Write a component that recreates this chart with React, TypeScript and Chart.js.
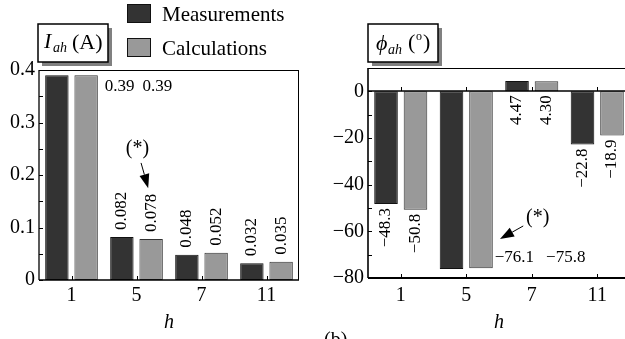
import React, { useEffect, useRef } from 'react';
import { Chart, registerables } from 'chart.js';

Chart.register(...registerables);

const SERIF = '"Liberation Serif", "DejaVu Serif", serif';

// ---- data ----
const harmonics = ['1', '5', '7', '11'];
const seriesNames = ['Measurements', 'Calculations'];

const currentMeasured = [0.39, 0.082, 0.048, 0.032];
const currentCalculated = [0.39, 0.078, 0.052, 0.035];
const currentMeasuredLabels = ['0.39', '0.082', '0.048', '0.032'];
const currentCalculatedLabels = ['0.39', '0.078', '0.052', '0.035'];
const currentTicks = [0, 0.1, 0.2, 0.3, 0.4];

const angleMeasured = [-48.3, -76.1, 4.47, -22.8];
const angleCalculated = [-50.8, -75.8, 4.3, -18.9];
const angleMeasuredLabels = ['\u221248.3', '\u221276.1', '4.47', '\u221222.8'];
const angleCalculatedLabels = ['\u221250.8', '\u221275.8', '4.30', '\u221218.9'];
const angleTicks = [-80, -60, -40, -20, 0];

const DARK = '#333333';
const GRAY = '#999999';

type Note = { text: string; at: [number, number]; from: [number, number]; to: [number, number] };
type Part = { text: string; size: number; italic?: boolean; x: number; y: number };

interface DecorOpts {
  name: string;
  frame: 'box' | 'phase';
  yTicks: number[];
  labels: string[][];
  labelMode: 'above' | 'below';
  horizIndex: number;
  horizOffset: number;
  horizGap: number;
  note: Note;
  titleBox: { x: number; y: number; w: number; h: number; parts: Part[] };
  legend: boolean;
}

function minorOf(ticks: number[]) {
  const out: number[] = [];
  for (let i = 0; i < ticks.length - 1; i++) out.push((ticks[i] + ticks[i + 1]) / 2);
  return out;
}

function catPx(chart: any, c: number) {
  const xs = chart.scales.x;
  const p0 = xs.getPixelForValue(0);
  const p1 = xs.getPixelForValue(1);
  return p0 + c * (p1 - p0);
}

function line(ctx: CanvasRenderingContext2D, x1: number, y1: number, x2: number, y2: number) {
  ctx.beginPath();
  ctx.moveTo(x1, y1);
  ctx.lineTo(x2, y2);
  ctx.stroke();
}

function decorPlugin(o: DecorOpts) {
  return {
    id: 'decor_' + o.name,
    afterDatasetsDraw(chart: any) {
      const ctx: CanvasRenderingContext2D = chart.ctx;
      const { left, right, top, bottom } = chart.chartArea;
      const xs = chart.scales.x;
      const ys = chart.scales.y;
      ctx.save();
      ctx.strokeStyle = '#000';
      const zeroY = Math.round(ys.getPixelForValue(0));

      if (o.frame === 'box') {
        ctx.lineWidth = 1;
        line(ctx, left, top + 0.5, right, top + 0.5);
        line(ctx, right - 0.5, top, right - 0.5, bottom);
        ctx.lineWidth = 1.3;
        line(ctx, left, top, left, bottom);
        ctx.lineWidth = 1.6;
        line(ctx, left, bottom, right, bottom);
      } else {
        ctx.lineWidth = 1.2;
        line(ctx, left, top + 0.5, right, top + 0.5);
        ctx.lineWidth = 1.6;
        line(ctx, left, top, left, bottom);
        ctx.lineWidth = 1.5;
        line(ctx, left, zeroY, right, zeroY);
        ctx.lineWidth = 2.2;
        line(ctx, left, bottom, right, bottom);
      }

      // inward tick marks
      ctx.lineWidth = 1;
      const allY = o.yTicks.concat(minorOf(o.yTicks));
      for (const v of allY) {
        const y = Math.round(ys.getPixelForValue(v)) + 0.5;
        line(ctx, left, y, left + 4, y);
      }
      for (let i = 0; i < harmonics.length; i++) {
        const x = Math.round(xs.getPixelForValue(i)) + 0.5;
        line(ctx, x, bottom, x, bottom - 4);
        if (o.frame === 'phase') line(ctx, x, zeroY, x, zeroY - 4);
      }

      // value labels
      ctx.fillStyle = '#000';
      ctx.font = `17px ${SERIF}`;
      for (let d = 0; d < 2; d++) {
        const meta = chart.getDatasetMeta(d);
        meta.data.forEach((el: any, i: number) => {
          if (i === o.horizIndex) return;
          const yTop = Math.min(el.y, el.base);
          const yBot = Math.max(el.y, el.base);
          ctx.save();
          ctx.textBaseline = 'middle';
          if (o.labelMode === 'above') {
            ctx.translate(el.x, yTop - 7);
            ctx.rotate(-Math.PI / 2);
            ctx.textAlign = 'left';
          } else {
            ctx.translate(el.x, yBot + 4);
            ctx.rotate(-Math.PI / 2);
            ctx.textAlign = 'right';
          }
          ctx.fillText(o.labels[d][i], 0, 0);
          ctx.restore();
        });
      }
      // horizontal pair
      {
        const m1 = chart.getDatasetMeta(1).data[o.horizIndex];
        const sign = m1.base > m1.y ? 1 : -1;
        const yc = m1.y + sign * 11;
        const x0 = m1.x + m1.width / 2 + o.horizOffset;
        ctx.textAlign = 'left';
        ctx.textBaseline = 'middle';
        const t0 = o.labels[0][o.horizIndex];
        const t1 = o.labels[1][o.horizIndex];
        ctx.fillText(t0, x0, yc);
        ctx.fillText(t1, x0 + ctx.measureText(t0).width + o.horizGap, yc);
      }

      // annotation with arrow
      {
        const n = o.note;
        const tx = catPx(chart, n.at[0]);
        const ty = ys.getPixelForValue(n.at[1]);
        ctx.font = `20px ${SERIF}`;
        ctx.textAlign = 'center';
        ctx.textBaseline = 'middle';
        ctx.fillText(n.text, tx, ty);
        const fx = catPx(chart, n.from[0]);
        const fy = ys.getPixelForValue(n.from[1]);
        const ex = catPx(chart, n.to[0]);
        const ey = ys.getPixelForValue(n.to[1]);
        const ang = Math.atan2(ey - fy, ex - fx);
        const hl = 14;
        const hw = 5;
        const bx = ex - hl * Math.cos(ang);
        const by = ey - hl * Math.sin(ang);
        ctx.lineWidth = 1;
        line(ctx, fx, fy, bx, by);
        ctx.beginPath();
        ctx.moveTo(ex, ey);
        ctx.lineTo(bx + hw * Math.sin(ang), by - hw * Math.cos(ang));
        ctx.lineTo(bx - hw * Math.sin(ang), by + hw * Math.cos(ang));
        ctx.closePath();
        ctx.fill();
      }
      ctx.restore();
    },
    afterDraw(chart: any) {
      const ctx: CanvasRenderingContext2D = chart.ctx;
      ctx.save();
      const b = o.titleBox;
      ctx.fillStyle = '#808080';
      ctx.fillRect(b.x + 4, b.y + 4, b.w, b.h);
      ctx.fillStyle = '#fff';
      ctx.fillRect(b.x, b.y, b.w, b.h);
      ctx.strokeStyle = '#000';
      ctx.lineWidth = 1.5;
      ctx.strokeRect(b.x, b.y, b.w, b.h);
      ctx.fillStyle = '#000';
      ctx.textAlign = 'left';
      ctx.textBaseline = 'alphabetic';
      for (const p of b.parts) {
        ctx.font = `${p.italic ? 'italic ' : ''}${p.size}px ${SERIF}`;
        ctx.fillText(p.text, b.x + p.x, b.y + p.y);
      }
      if (o.legend) {
        const items = [
          { name: seriesNames[0], fill: DARK, y: 4 },
          { name: seriesNames[1], fill: GRAY, y: 38 },
        ];
        for (const it of items) {
          ctx.fillStyle = it.fill;
          ctx.fillRect(127, it.y, 24, 19);
          ctx.strokeStyle = '#111';
          ctx.lineWidth = 1;
          ctx.strokeRect(127.5, it.y + 0.5, 23, 18);
          ctx.fillStyle = '#000';
          ctx.font = `21px ${SERIF}`;
          ctx.fillText(it.name, 162, it.y + 17);
        }
      }
      ctx.restore();
    },
  };
}

function baseDatasets(a: number[], b: number[]) {
  const common = {
    borderWidth: 1,
    borderSkipped: false as const,
    categoryPercentage: 0.9,
    barPercentage: 0.8,
  };
  return [
    { label: seriesNames[0], data: a, backgroundColor: DARK, borderColor: '#111', ...common },
    { label: seriesNames[1], data: b, backgroundColor: GRAY, borderColor: '#333', ...common },
  ];
}

function xScale(pad: number, height: number) {
  return {
    grid: { display: false, drawTicks: false },
    border: { display: false },
    ticks: { font: { family: SERIF, size: 20 }, color: '#000', padding: pad, maxRotation: 0, autoSkip: false },
    title: {
      display: true,
      text: 'h',
      color: '#000',
      font: { family: SERIF, size: 20, style: 'italic' as const },
      padding: { top: 0, bottom: 4 },
    },
    afterFit: (s: any) => {
      s.height = height;
    },
  };
}

export default function App() {
  const leftRef = useRef<HTMLCanvasElement>(null);
  const rightRef = useRef<HTMLCanvasElement>(null);

  useEffect(() => {
    const c1 = new Chart(leftRef.current as HTMLCanvasElement, {
      type: 'bar',
      data: { labels: harmonics, datasets: baseDatasets(currentMeasured, currentCalculated) as any },
      options: {
        animation: false,
        responsive: false,
        devicePixelRatio: 1,
        layout: { padding: { top: 70, right: 31, left: 0, bottom: 0 } },
        plugins: { legend: { display: false }, tooltip: { enabled: false }, title: { display: false } },
        scales: {
          x: xScale(4, 59) as any,
          y: {
            min: 0,
            max: 0.4,
            grid: { display: false, drawTicks: false },
            border: { display: false },
            ticks: { font: { family: SERIF, size: 20 }, color: '#000', padding: 4, callback: (v: any) => String(v) },
            afterBuildTicks: (s: any) => {
              s.ticks = currentTicks.map((v) => ({ value: v }));
            },
            afterFit: (s: any) => {
              s.width = 39;
            },
          } as any,
        },
      },
      plugins: [
        decorPlugin({
          name: 'left',
          frame: 'box',
          yTicks: currentTicks,
          labels: [currentMeasuredLabels, currentCalculatedLabels],
          labelMode: 'above',
          horizIndex: 0,
          horizOffset: 7,
          horizGap: 8,
          note: { text: '(*)', at: [1.015, 0.25], from: [1.07, 0.223], to: [1.18, 0.175] },
          titleBox: {
            x: 38,
            y: 24,
            w: 70,
            h: 38,
            parts: [
              { text: 'I', size: 22, italic: true, x: 6, y: 24 },
              { text: 'ah', size: 14, italic: true, x: 15, y: 28 },
              { text: '(A)', size: 22, x: 34, y: 25 },
            ],
          },
          legend: true,
        }) as any,
      ],
    });

    const c2 = new Chart(rightRef.current as HTMLCanvasElement, {
      type: 'bar',
      data: { labels: harmonics, datasets: baseDatasets(angleMeasured, angleCalculated) as any },
      options: {
        animation: false,
        responsive: false,
        devicePixelRatio: 1,
        layout: { padding: { top: 68, right: 10, left: 0, bottom: 0 } },
        plugins: { legend: { display: false }, tooltip: { enabled: false }, title: { display: false } },
        scales: {
          x: xScale(6, 61) as any,
          y: {
            min: -80,
            max: 10,
            grid: { display: false, drawTicks: false },
            border: { display: false },
            ticks: {
              font: { family: SERIF, size: 20 },
              color: '#000',
              padding: 4,
              callback: (v: any) => String(v).replace('-', '\u2212'),
            },
            afterBuildTicks: (s: any) => {
              s.ticks = angleTicks.map((v) => ({ value: v }));
            },
            afterFit: (s: any) => {
              s.width = 38;
            },
          } as any,
        },
      },
      plugins: [
        decorPlugin({
          name: 'right',
          frame: 'phase',
          yTicks: angleTicks,
          labels: [angleMeasuredLabels, angleCalculatedLabels],
          labelMode: 'below',
          horizIndex: 1,
          horizOffset: 2,
          horizGap: 12,
          note: { text: '(*)', at: [2.09, -54.3], from: [1.87, -57.7], to: [1.515, -63.3] },
          titleBox: {
            x: 38,
            y: 24,
            w: 70,
            h: 38,
            parts: [
              { text: '\u03d5', size: 22, italic: true, x: 8, y: 26 },
              { text: 'ah', size: 14, italic: true, x: 20, y: 30 },
              { text: '(', size: 22, x: 40, y: 25 },
              { text: 'o', size: 12, x: 48, y: 16 },
              { text: ')', size: 22, x: 55, y: 25 },
            ],
          },
          legend: false,
        }) as any,
      ],
    });

    return () => {
      c1.destroy();
      c2.destroy();
    };
  }, []);

  return (
    <div
      style={{
        position: 'absolute',
        left: 0,
        top: 0,
        width: 625,
        height: 339,
        overflow: 'hidden',
        background: '#fff',
      }}
    >
      <canvas
        ref={leftRef}
        width={330}
        height={339}
        style={{ position: 'absolute', left: 0, top: 0, width: 330, height: 339 }}
      />
      <canvas
        ref={rightRef}
        width={310}
        height={339}
        style={{ position: 'absolute', left: 330, top: 0, width: 310, height: 339 }}
      />
      <div
        style={{
          position: 'absolute',
          left: 324,
          top: 329,
          fontFamily: SERIF,
          fontSize: 20,
          lineHeight: '20px',
          color: '#000',
          whiteSpace: 'nowrap',
        }}
      >
        (b)
      </div>
    </div>
  );
}
